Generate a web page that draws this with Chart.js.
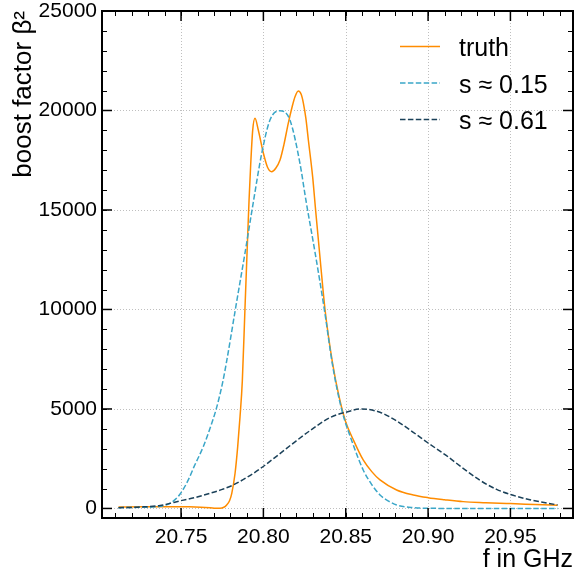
<!DOCTYPE html>
<html><head><meta charset="utf-8">
<script src="https://cdn.jsdelivr.net/npm/chart.js@4.4.1/dist/chart.umd.min.js"></script>
<style>html,body{margin:0;padding:0;background:#fff}canvas{display:block}</style>
</head><body>
<canvas id="c" width="575" height="571"></canvas>
<script>
// ---- data ----
const truthF = [20.712,20.725,20.737,20.747,20.755,20.762,20.7676,20.771,20.7737,20.776,20.7777,20.7795,20.7808,20.7828,20.7844,20.7858,20.7872,20.7888,20.7905,20.7913,20.7923,20.7935,20.7949,20.7969,20.80,20.8025,20.805,20.8075,20.8101,20.8125,20.8151,20.8175,20.8192,20.8212,20.823,20.8243,20.8258,20.8273,20.8299,20.8317,20.8345,20.8374,20.842,20.846,20.85,20.8546,20.8606,20.8658,20.8708,20.8809,20.891,20.90,20.91,20.9213,20.935,20.95,20.965,20.9786];
const truthB = [75,85,90,90,80,60,35,15,10,60,175,400,762,1770,3105,4600,6400,10010,13800,15502,17300,19000,19608,19020,17850,17150,16925,17100,17512,18300,19356,20200,20693,20979,20800,20362,19600,18517,16673,15000,12500,10010,7300,5600,4350,3450,2437,1850,1432,930,678,543,440,343,290,243,200,160];

const s015F = [20.712,20.725,20.7353,20.7433,20.749,20.7544,20.7579,20.7635,20.7675,20.7712,20.7731,20.7753,20.7777,20.783,20.7888,20.7939,20.799,20.804,20.81,20.8161,20.8222,20.8258,20.8315,20.837,20.842,20.8475,20.8546,20.8606,20.8658,20.8708,20.8758,20.8809,20.891,20.90,20.92,20.95,20.9786];
const s015B = [40,55,90,260,678,1432,2100,3105,4000,4950,5550,6350,7400,10010,12824,15400,17849,19522,19990,19522,17346,15502,12800,10010,7200,4985,3190,1935,1200,678,380,176,40,10,0,0,0];

const s061F = [20.712,20.725,20.7373,20.75,20.759,20.7676,20.775,20.7817,20.79,20.7979,20.809,20.82,20.829,20.8404,20.85,20.8596,20.8708,20.8809,20.891,20.90,20.9112,20.9213,20.9314,20.9416,20.95,20.9618,20.9786];
const s061B = [35,70,150,393,560,762,960,1180,1560,1990,2688,3400,3950,4563,4834,5000,4834,4397,3828,3290,2650,2018,1420,960,700,440,176];

const seriesLabels = ['truth', 's \u2248 0.15', 's \u2248 0.61'];
const xTicks = [20.75, 20.80, 20.85, 20.90, 20.95];
const yTicks = [0, 5000, 10000, 15000, 20000, 25000];
const xMinorStep = 0.01;
const yMinorStep = 1000;

const COLORS = ['#ff8c00', '#3aa6c8', '#1b4159'];
const FONT = "'Liberation Sans', Arial, Helvetica, sans-serif";

function pts(F, B) { return F.map((f, i) => ({x: f, y: B[i]})); }

const framePlugin = {
  id: 'frame',
  beforeDatasetsDraw(chart) {
    const {ctx, chartArea: a, scales: {x, y}} = chart;
    ctx.save();
    ctx.strokeStyle = 'rgba(0,0,0,0.25)';
    ctx.lineWidth = 1;
    ctx.setLineDash([1, 2]);
    xTicks.forEach(v => {
      const p = Math.round(x.getPixelForValue(v)) + 0.5;
      ctx.beginPath(); ctx.moveTo(p, a.top); ctx.lineTo(p, a.bottom); ctx.stroke();
    });
    yTicks.forEach(v => {
      const p = Math.round(y.getPixelForValue(v)) + 0.5;
      ctx.beginPath(); ctx.moveTo(a.left, p); ctx.lineTo(a.right, p); ctx.stroke();
    });
    ctx.restore();
  },
  afterDatasetsDraw(chart) {
    const {ctx, chartArea: a, scales: {x, y}} = chart;
    ctx.save();
    ctx.strokeStyle = '#000';
    ctx.setLineDash([]);
    const seg = (x1, y1, x2, y2) => { ctx.beginPath(); ctx.moveTo(x1, y1); ctx.lineTo(x2, y2); ctx.stroke(); };
    ctx.lineWidth = 1;
    for (let v = Math.ceil(x.min / xMinorStep) * xMinorStep; v <= x.max; v += xMinorStep) {
      const p = Math.round(x.getPixelForValue(v)) + 0.5;
      seg(p, a.bottom, p, a.bottom - 5); seg(p, a.top, p, a.top + 5);
    }
    for (let v = 0; v <= y.max; v += yMinorStep) {
      const p = Math.round(y.getPixelForValue(v)) + 0.5;
      seg(a.left, p, a.left + 5, p); seg(a.right, p, a.right - 5, p);
    }
    ctx.lineWidth = 1.5;
    xTicks.forEach(v => {
      const p = x.getPixelForValue(v);
      seg(p, a.bottom, p, a.bottom - 10); seg(p, a.top, p, a.top + 10);
    });
    yTicks.forEach(v => {
      const p = y.getPixelForValue(v);
      seg(a.left, p, a.left + 10, p); seg(a.right, p, a.right - 10, p);
    });
    ctx.lineWidth = 2;
    ctx.strokeRect(a.left, a.top, a.right - a.left, a.bottom - a.top);
    const rows = [46.5, 83, 119.5];
    chart.data.datasets.forEach((ds, i) => {
      ctx.strokeStyle = ds.borderColor;
      ctx.lineWidth = ds.borderWidth;
      ctx.setLineDash(ds.borderDash || []);
      seg(400, rows[i], 440, rows[i]);
      ctx.setLineDash([]);
      ctx.fillStyle = '#000';
      ctx.font = '25px ' + FONT;
      ctx.textBaseline = 'alphabetic';
      ctx.textAlign = 'left';
      ctx.fillText(ds.label, 459, rows[i] + 9.5);
    });
    ctx.restore();
  }
};

new Chart(document.getElementById('c'), {
  type: 'line',
  data: {
    datasets: [
      {label: seriesLabels[0], data: pts(truthF, truthB), borderColor: COLORS[0], borderWidth: 1.5, pointRadius: 0, fill: false, order: 3, cubicInterpolationMode: 'monotone'},
      {label: seriesLabels[1], data: pts(s015F, s015B), borderColor: COLORS[1], borderWidth: 1.5, borderDash: [5.5, 2.4], pointRadius: 0, fill: false, order: 2, cubicInterpolationMode: 'monotone'},
      {label: seriesLabels[2], data: pts(s061F, s061B), borderColor: COLORS[2], borderWidth: 1.5, borderDash: [5.5, 2.4], pointRadius: 0, fill: false, order: 1, cubicInterpolationMode: 'monotone'}
    ]
  },
  options: {
    responsive: false,
    animation: false,
    devicePixelRatio: 1,
    layout: {padding: {top: 11, right: 2, left: 0, bottom: 0}},
    plugins: {legend: {display: false}, tooltip: {enabled: false}},
    scales: {
      x: {
        type: 'linear', min: 20.702, max: 20.988,
        afterBuildTicks: s => { s.ticks = xTicks.map(v => ({value: v})); },
        afterFit: s => { s.height = 53; s.paddingLeft = 0; s.paddingRight = 0; },
        grid: {display: false, drawTicks: false},
        border: {display: false},
        ticks: {font: {family: FONT, size: 21}, color: '#000', padding: 7, maxRotation: 0, autoSkip: false, callback: v => v.toFixed(2)},
        title: {display: true, text: 'f in GHz', align: 'end', color: '#000', font: {family: FONT, size: 25, lineHeight: 0.9}, padding: 0}
      },
      y: {
        type: 'linear', min: -480, max: 25000,
        afterBuildTicks: s => { s.ticks = yTicks.map(v => ({value: v})); },
        afterFit: s => { s.width = 102; s.paddingTop = 0; s.paddingBottom = 0; },
        grid: {display: false, drawTicks: false},
        border: {display: false},
        ticks: {font: {family: FONT, size: 21}, color: '#000', padding: 5, autoSkip: false, callback: v => String(v)},
        title: {display: true, text: 'boost factor \u03b2\u00b2', align: 'end', color: '#000', font: {family: FONT, size: 26, lineHeight: 1}, padding: {top: 11, bottom: 0}}
      }
    }
  },
  plugins: [framePlugin]
});
</script>
</body></html>
